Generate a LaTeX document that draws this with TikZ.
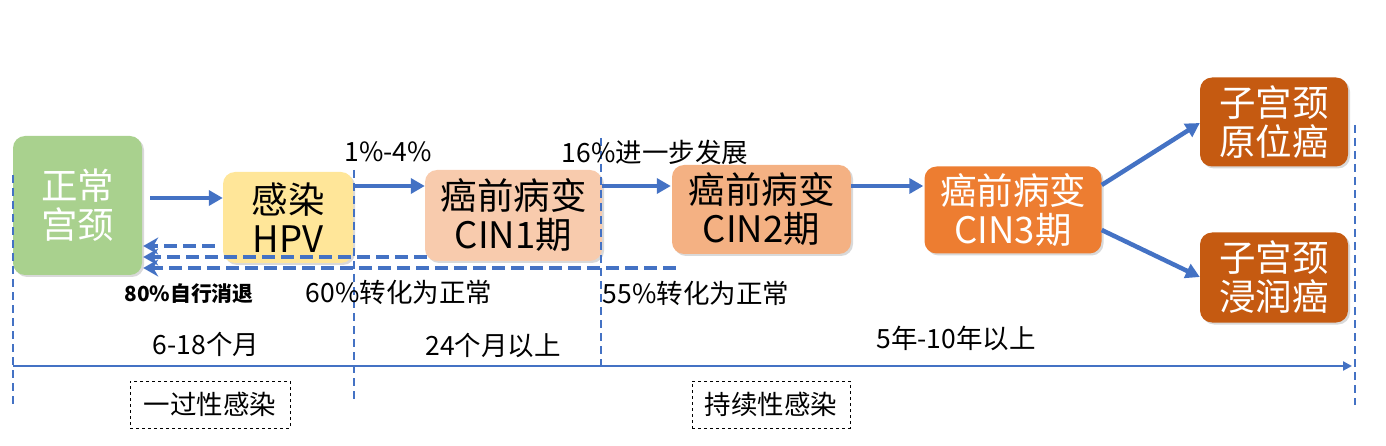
\documentclass[tikz,border=0pt]{standalone}
\usepackage{fontspec}
\setmainfont{Noto Sans CJK SC}
\usetikzlibrary{arrows.meta,shadows}
\definecolor{cgreen}{HTML}{A9D18E}
\definecolor{cyellow}{HTML}{FFE699}
\definecolor{cpeach}{HTML}{F8CBAD}
\definecolor{cpeachb}{HTML}{F4B183}
\definecolor{corange}{HTML}{ED7D31}
\definecolor{cbrown}{HTML}{C55A11}
\definecolor{cblue}{HTML}{4472C4}
\tikzset{
  stage/.style={rounded corners=12pt, align=center, inner sep=0pt,
    font=\fontsize{36.5}{39}\selectfont,
    drop shadow={shadow xshift=2pt, shadow yshift=-2pt, opacity=0.25, fill=black!60}},
  fwd/.style={draw=cblue, line width=4.5pt, -{Triangle[length=14pt,width=15pt]}},
  back/.style={draw=cblue, line width=4pt, dash pattern=on 13pt off 6pt, -{Stealth[length=15pt,width=17pt]}},
  vline/.style={draw=cblue, line width=1.6pt, dash pattern=on 8pt off 5pt},
  lbl/.style={font=\fontsize{26.5}{28}\selectfont, inner sep=0pt},
  tlbl/.style={font=\fontsize{26.5}{28}\selectfont, inner sep=0pt},
  phase/.style={draw=black, dashed, line width=0.8pt, minimum width=160pt, minimum height=47pt, font=\fontsize{26.5}{28}\selectfont, inner sep=0pt}
}
\begin{document}
\begin{tikzpicture}[x=1pt,y=-1pt]
\useasboundingbox (0,0) rectangle (1386,446);
% stage boxes
\node[stage, fill=cgreen, text=white, minimum width=129pt, minimum height=139pt] (normal) at (77.5,205.5) {正常\\宫颈};
\node[stage, fill=cyellow, minimum width=130pt, minimum height=91pt] (hpv) at (288,217.5) {感染\\HPV};
\node[stage, fill=cpeach, minimum width=177pt, minimum height=91pt] (cin1) at (513.5,215.5) {癌前病变\\CIN1期};
\node[stage, fill=cpeachb, minimum width=179pt, minimum height=89pt] (cin2) at (761.5,209.5) {癌前病变\\CIN2期};
\node[stage, fill=corange, text=white, minimum width=177pt, minimum height=87pt] (cin3) at (1013,210) {癌前病变\\CIN3期};
\node[stage, fill=cbrown, text=white, minimum width=148pt, minimum height=89pt] (insitu) at (1274,122) {子宫颈\\原位癌};
\node[stage, fill=cbrown, text=white, minimum width=148pt, minimum height=90pt] (invas) at (1274,277.5) {子宫颈\\浸润癌};
% vertical dashed guides
\coordinate (v1a) at (13,175); \coordinate (v1b) at (13,405);
\coordinate (v2a) at (354,170); \coordinate (v2b) at (354,403);
\coordinate (v3a) at (601,138); \coordinate (v3b) at (601,366);
\coordinate (v4a) at (1355,125); \coordinate (v4b) at (1355,405);
\draw[vline] (v1a) -- (v1b);
\draw[vline] (v2a) -- (v2b);
\draw[vline] (v3a) -- (v3b);
\draw[vline] (v4a) -- (v4b);
% forward arrows
\draw[fwd] ([xshift=8pt]normal.east |- 0,198) -- (hpv.west |- 0,198);
\draw[fwd] (hpv.east |- 0,186) -- (cin1.west |- 0,186);
\draw[fwd] (cin1.east |- 0,186) -- ([xshift=-1pt]cin2.west |- 0,186);
\draw[fwd] (cin2.east |- 0,186) -- ([xshift=-1pt]cin3.west |- 0,186);
\draw[fwd] (cin3.east |- 0,185) -- (insitu.west |- 0,123);
\draw[fwd] (cin3.east |- 0,230) -- (invas.west |- 0,277);
% backward dashed arrows
\draw[back] ([xshift=-8pt]hpv.west |- 0,246) -- ([xshift=1pt]normal.east |- 0,246);
\draw[back] ([xshift=2pt]cin1.west |- 0,257) -- ([xshift=1pt]normal.east |- 0,257);
\draw[back] ([xshift=4pt]cin2.west |- 0,268) -- ([xshift=1pt]normal.east |- 0,268);
% labels
\node[lbl] (p14) at (388,152) {1\%-4\%};
\node[lbl] (p16) at (655,152) {16\%进一步发展};
\node[lbl] (p60) at (399,292) {60\%转化为正常};
\node[lbl] (p55) at (696,293) {55\%转化为正常};
\node[inner sep=0pt, font=\fontsize{20.8}{22}\selectfont\bfseries] (p80) at (189,294) {80\%自行消退};
% timeline
\coordinate (t0) at (13,366);
\coordinate (t1) at (1352,366);
\draw[cblue, line width=2.8pt, -{Triangle[length=9pt,width=9pt]}] (t0) -- (t1);
\node[tlbl] (d1) at (206,344) {6-18个月};
\node[tlbl] (d2) at (493,345) {24个月以上};
\node[tlbl] (d3) at (956,338) {5年-10年以上};
% phases
\node[phase] (ph1) at (210,404.5) {一过性感染};
\node[phase, minimum width=158pt] (ph2) at (771,404.5) {持续性感染};
\end{tikzpicture}
\end{document}
